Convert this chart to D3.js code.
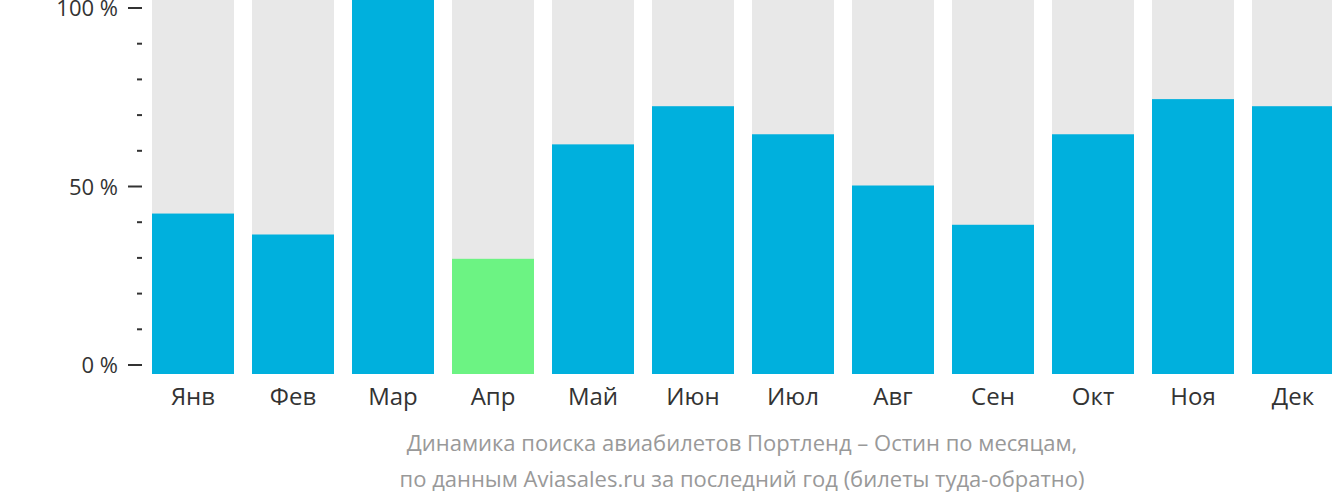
<!DOCTYPE html>
<html>
<head>
<meta charset="utf-8">
<script src="https://d3js.org/d3.v7.min.js"></script>
<style>
  body { margin: 0; font-family: "Open Sans", sans-serif; background: #fff; }
</style>
</head>
<body>
<div id="chart"></div>
<script>
var months = ["Янв","Фев","Мар","Апр","Май","Июн","Июл","Авг","Сен","Окт","Ноя","Дек"];
var values = [42.9, 37.3, 100, 30.8, 61.4, 71.6, 64.1, 50.4, 39.9, 64.1, 73.5, 71.6];
var highlight = "Апр";
var captionLines = [
  "Динамика поиска авиабилетов Портленд – Остин по месяцам,",
  "по данным Aviasales.ru за последний год (билеты туда-обратно)"
];

var svg = d3.select("#chart").append("svg").attr("width", 1332).attr("height", 502);

var x = d3.scaleBand().domain(months).range([143, 1343]).paddingInner(0.18).paddingOuter(0.09);
var yBar = d3.scaleLinear().domain([0, 100]).range([374, 0]);
var yAxis = d3.scaleLinear().domain([0, 100]).range([365, 8]);

// background bars
svg.selectAll("rect.bg").data(months).enter().append("rect")
  .attr("x", function(d) { return x(d); })
  .attr("y", yBar(100))
  .attr("width", x.bandwidth())
  .attr("height", yBar(0) - yBar(100))
  .attr("fill", "#e8e8e8");

svg.selectAll("rect.val").data(values).enter().append("rect")
  .attr("x", function(d, i) { return x(months[i]); })
  .attr("y", function(d) { return yBar(d); })
  .attr("width", x.bandwidth())
  .attr("height", function(d) { return yBar(0) - yBar(d); })
  .attr("fill", function(d, i) { return months[i] === highlight ? "#6cf383" : "#00b0dd"; });

// y ticks
var ticks = d3.range(0, 101, 10);
svg.selectAll("line.tick").data(ticks).enter().append("line")
  .attr("x1", function(d) { return d % 50 === 0 ? 128 : 137; })
  .attr("x2", 142)
  .attr("y1", function(d) { return yAxis(d); })
  .attr("y2", function(d) { return yAxis(d); })
  .attr("stroke", "#333").attr("stroke-width", 2);

svg.selectAll("text.ytick").data([0, 50, 100]).enter().append("text")
  .attr("x", 118).attr("y", function(d) { return yAxis(d) + 8; })
  .attr("text-anchor", "end").attr("font-size", 22).attr("fill", "#333")
  .text(function(d) { return d + " %"; });

svg.selectAll("text.month").data(months).enter().append("text")
  .attr("x", function(d) { return x(d) + x.bandwidth() / 2; })
  .attr("y", 405).attr("text-anchor", "middle").attr("font-size", 24).attr("fill", "#333")
  .text(function(d) { return d; });

svg.selectAll("text.cap").data(captionLines).enter().append("text")
  .attr("x", 742).attr("y", function(d, i) { return 451 + i * 36; })
  .attr("text-anchor", "middle").attr("font-size", 22).attr("fill", "#999")
  .text(function(d) { return d; });
</script>
</body>
</html>
